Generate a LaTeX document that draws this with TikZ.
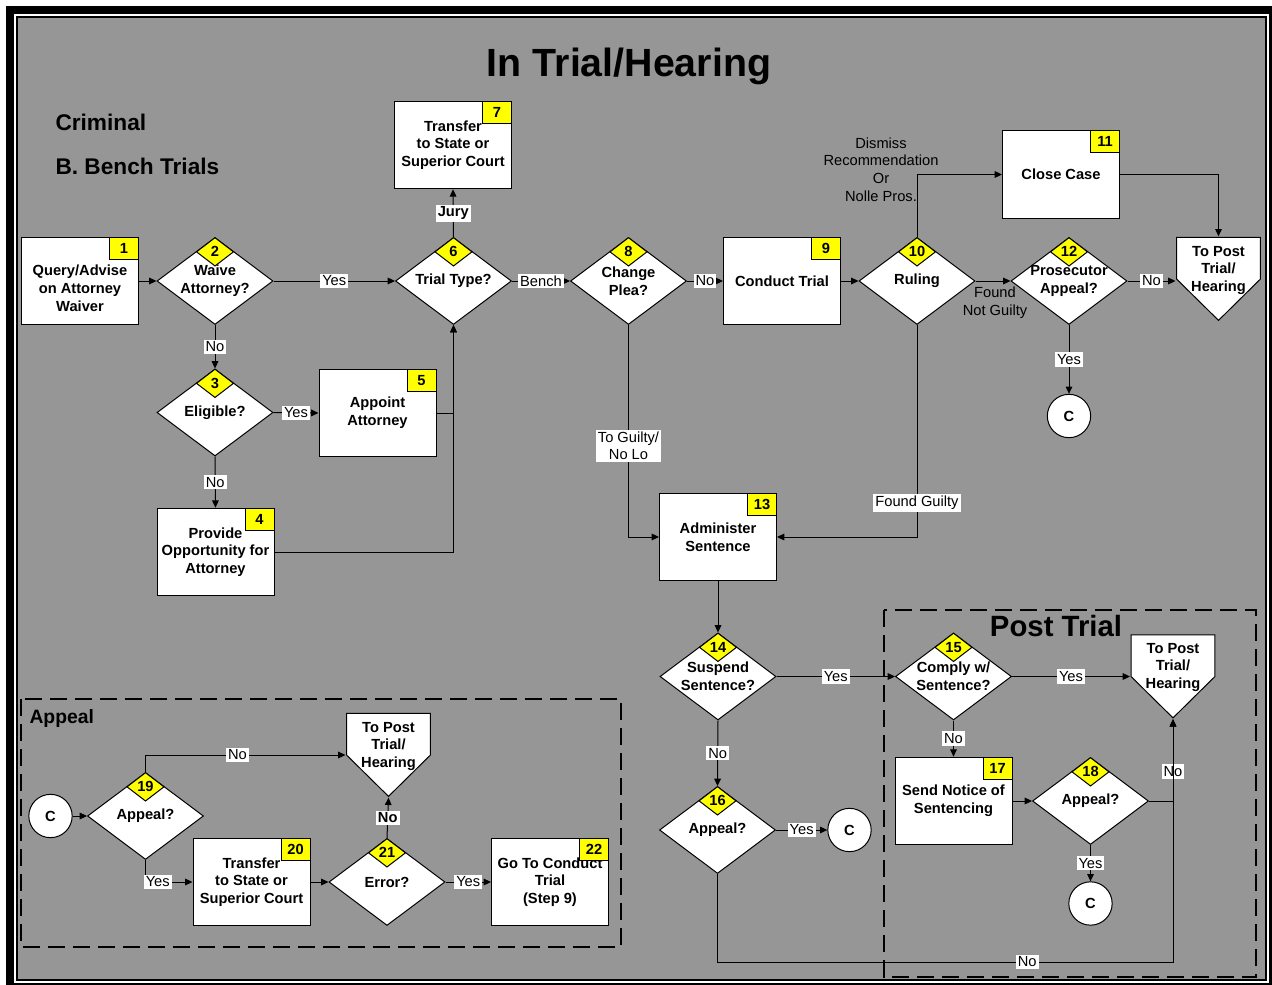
\documentclass[tikz,border=0pt]{standalone}
\usepackage{fontspec}
\setmainfont{Liberation Sans}
\usetikzlibrary{shapes.geometric,arrows.meta}
\definecolor{panel}{RGB}{150,150,150}
\definecolor{tagyellow}{RGB}{255,255,0}
\newcommand{\flowfont}{\fontsize{11}{13.2}\selectfont}
\newcommand{\liftedtext}[2]{\raisebox{#1}[0pt][0pt]{\begin{tabular}{@{}c@{}}#2\end{tabular}}}

\begin{document}
\begin{tikzpicture}[x=0.75pt,y=-0.75pt,line width=0.75pt,
  box/.style={draw, fill=white, minimum width=87.75pt, minimum height=65.75pt, inner sep=1pt, align=center, font=\flowfont\bfseries},
  decision/.style={diamond, draw, fill=white, minimum width=87pt, minimum height=65.25pt, inner sep=-4pt, align=center, font=\flowfont\bfseries},
  boxtag/.style={draw, fill=tagyellow, minimum width=21.75pt, minimum height=16.5pt, inner sep=0pt, anchor=north east, font=\flowfont\bfseries},
  dectag/.style={diamond, draw, fill=tagyellow, minimum width=28pt, minimum height=21.5pt, inner sep=0pt, anchor=north, font=\flowfont\bfseries},
  jump/.style={circle, draw, fill=white, minimum size=32.5pt, inner sep=0pt, font=\flowfont\bfseries},
  offpage/.style={fill=panel, minimum width=63.75pt, minimum height=63.25pt, inner sep=0pt, font=\flowfont\bfseries,
    path picture={\draw[fill=white]
      ([shift={(0.4pt,-0.4pt)}]path picture bounding box.north west) --
      ([shift={(-0.4pt,-0.4pt)}]path picture bounding box.north east) --
      ([xshift=-0.4pt]path picture bounding box.east) --
      ([yshift=0.6pt]path picture bounding box.south) --
      ([xshift=0.4pt]path picture bounding box.west) -- cycle;}},
  lbl/.style={fill=white, inner sep=1.5pt, font=\flowfont},
  flow/.style={-{Triangle[length=5.5pt,width=5pt]}},
  region/.style={line width=1.5pt, dash pattern=on 13pt off 5.75pt}]
  \useasboundingbox (0,0) rectangle (1272,985);
  \fill[white] (0,0) rectangle (1272,985);
  \fill[black] (6,6) rectangle (1272,985);
  \fill[white] (14,14) rectangle (1269,983);
  \fill[black] (16,16) rectangle (1267,981);
  \fill[panel] (18,18) rectangle (1265,979);
  \draw[region] (884,610) rectangle (1256,977);
  \draw[region] (21,699) rectangle (621,947);

  \node[anchor=base, font=\fontsize{29.5}{35}\selectfont\bfseries] (title) at (629,76.7) {In Trial/Hearing};
  \node[anchor=base west, inner sep=0pt, font=\fontsize{17}{20}\selectfont\bfseries] (crim) at (55,130) {Criminal};
  \node[anchor=base west, inner sep=0pt, font=\fontsize{17}{20}\selectfont\bfseries] (bench) at (55,174) {B. Bench Trials};
  \node[anchor=base, font=\fontsize{22}{26}\selectfont\bfseries] (post) at (1056,636) {Post Trial};
  \node[anchor=base west, inner sep=0pt, font=\fontsize{14.5}{17}\selectfont\bfseries] (appeal) at (29,723) {Appeal};

  \node[box] (b1) at (80,281) {\liftedtext{-9.5pt}{Query/Advise\\on Attorney\\Waiver}};
  \node[boxtag] (t1) at (b1.north east) {1};
  \node[decision] (d2) at (215,281) {Waive\\Attorney?};
  \node[dectag] (t2) at (d2.north) {2};
  \node[decision] (d3) at (215,412.5) {Eligible?};
  \node[dectag] (t3) at (d3.north) {3};
  \node[box] (b4) at (215.5,552) {Provide\\Opportunity for\\Attorney};
  \node[boxtag] (t4) at (b4.north east) {4};
  \node[box] (b5) at (377.5,413) {Appoint\\Attorney};
  \node[boxtag] (t5) at (b5.north east) {5};
  \node[decision] (d6) at (453.5,281) {Trial Type?};
  \node[dectag] (t6) at (d6.north) {6};
  \node[box] (b7) at (453,145) {Transfer\\to State or\\Superior Court};
  \node[boxtag] (t7) at (b7.north east) {7};
  \node[decision] (d8) at (628.5,281) {Change\\Plea?};
  \node[dectag] (t8) at (d8.north) {8};
  \node[box] (b9) at (782,281) {Conduct Trial};
  \node[boxtag] (t9) at (b9.north east) {9};
  \node[decision] (d10) at (917,281) {Ruling};
  \node[dectag] (t10) at (d10.north) {10};
  \node[box] (b11) at (1061,174.5) {Close Case};
  \node[boxtag] (t11) at (b11.north east) {11};
  \node[decision] (d12) at (1069,281) {Prosecutor\\Appeal?};
  \node[dectag] (t12) at (d12.north) {12};
  \node[offpage] (op12) at (1218.5,279) {\liftedtext{3.9pt}{To Post\\Trial/\\Hearing}};
  \node[jump] (c12) at (1069,416) {C};
  \node[box] (b13) at (718,537) {Administer\\Sentence};
  \node[boxtag] (t13) at (b13.north east) {13};
  \node[decision] (d14) at (718,676.5) {Suspend\\Sentence?};
  \node[dectag] (t14) at (d14.north) {14};
  \node[decision] (d16) at (717.5,830) {Appeal?};
  \node[dectag] (t16) at (d16.north) {16};
  \node[jump] (c16) at (849.5,830) {C};
  \node[decision] (d15) at (953.5,676.5) {Comply w/\\Sentence?};
  \node[dectag] (t15) at (d15.north) {15};
  \node[offpage] (op15) at (1173,676.5) {\liftedtext{4.1pt}{To Post\\Trial/\\Hearing}};
  \node[box] (b17) at (953.5,801) {Send Notice of\\Sentencing};
  \node[boxtag] (t17) at (b17.north east) {17};
  \node[decision] (d18) at (1090.5,801) {Appeal?};
  \node[dectag] (t18) at (d18.north) {18};
  \node[jump] (c18) at (1090.5,903.5) {C};
  \node[jump] (c19) at (50.5,816) {C};
  \node[decision] (d19) at (145.5,816) {Appeal?};
  \node[dectag] (t19) at (d19.north) {19};
  \node[offpage] (op19) at (388.5,755) {\liftedtext{3.9pt}{To Post\\Trial/\\Hearing}};
  \node[box] (b20) at (251.5,882) {Transfer\\to State or\\Superior Court};
  \node[boxtag] (t20) at (b20.north east) {20};
  \node[decision] (d21) at (387,882) {Error?};
  \node[dectag] (t21) at (d21.north) {21};
  \node[box] (b22) at (550,882) {Go To Conduct\\Trial\\(Step 9)};
  \node[boxtag] (t22) at (b22.north east) {22};

  \node[font=\flowfont, align=center] (dismiss) at (881,169.5) {Dismiss\\Recommendation\\Or\\Nolle Pros.};
  \node[font=\flowfont, align=center] (notguilty) at (995,303) {Found\\Not Guilty};
  \coordinate (k16) at (717.5,962);

  \draw[flow] (b1.east) -- (d2.west);
  \draw[flow] (d2.east) -- node[lbl] {Yes} (d6.west);
  \draw[flow] (d2.south) -- node[lbl] {No} (d3.north);
  \draw[flow] (d3.east) -- node[lbl] {Yes} (b5.west);
  \draw[flow] (d3.south) -- node[lbl] {No} (b4.north);
  \draw[flow] (b5.east) -| (d6.south);
  \draw[flow] (b4.east) -| (d6.south);
  \draw[flow] (d6.north) -- node[lbl, font=\flowfont\bfseries] {Jury} (b7.south);
  \draw[flow] (d6.east) -- node[lbl] {Bench} (d8.west);
  \draw[flow] (d8.east) -- node[lbl] {No} (b9.west);
  \draw[flow] (d8.south) |- node[lbl, pos=0.285, align=center] {To Guilty/\\No Lo} (b13.west);
  \draw[flow] (b9.east) -- (d10.west);
  \draw[flow] (d10.north) |- (b11.west);
  \draw[flow] (d10.east) -- (d12.west);
  \draw[flow] (d10.south) |- node[lbl, pos=0.42] {Found Guilty} (b13.east);
  \draw[flow] (b11.east) -| (op12.north);
  \draw[flow] (d12.east) -- node[lbl] {No} (d12.east -| op12.west);
  \draw[flow] (d12.south) -- node[lbl] {Yes} (c12.north);
  \draw[flow] (b13.south) -- (d14.north);
  \draw[flow] (d14.east) -- node[lbl] {Yes} (d15.west);
  \draw[flow] (d14.south) -- node[lbl] {No} (d16.north);
  \draw[flow] (d16.east) -- node[lbl] {Yes} (c16.west);
  \draw[flow] (d15.east) -- node[lbl] {Yes} (d15.east -| op15.west);
  \draw[flow] (d15.south) -- node[lbl] {No} (b17.north);
  \draw[flow] (b17.east) -- (d18.west);
  \draw[flow] (d18.south) -- node[lbl] {Yes} (c18.north);
  \draw[flow] (d18.east) -| node[lbl, pos=0.68] {No} (op15.south);
  \draw[flow] (d16.south) -- (k16) -| node[lbl, pos=0.34] {No} (op15.south);
  \draw[flow] (c19.east) -- (d19.west);
  \draw[flow] (d19.north) |- node[lbl, pos=0.73] {No} (op19.west);
  \draw[flow] (d19.south) |- node[lbl, pos=0.63] {Yes} (b20.west);
  \draw[flow] (b20.east) -- (d21.west);
  \draw[flow] (d21.north) -- node[lbl, font=\flowfont\bfseries] {No} (op19.south);
  \draw[flow] (d21.east) -- node[lbl] {Yes} (b22.west);
\end{tikzpicture}
\end{document}
